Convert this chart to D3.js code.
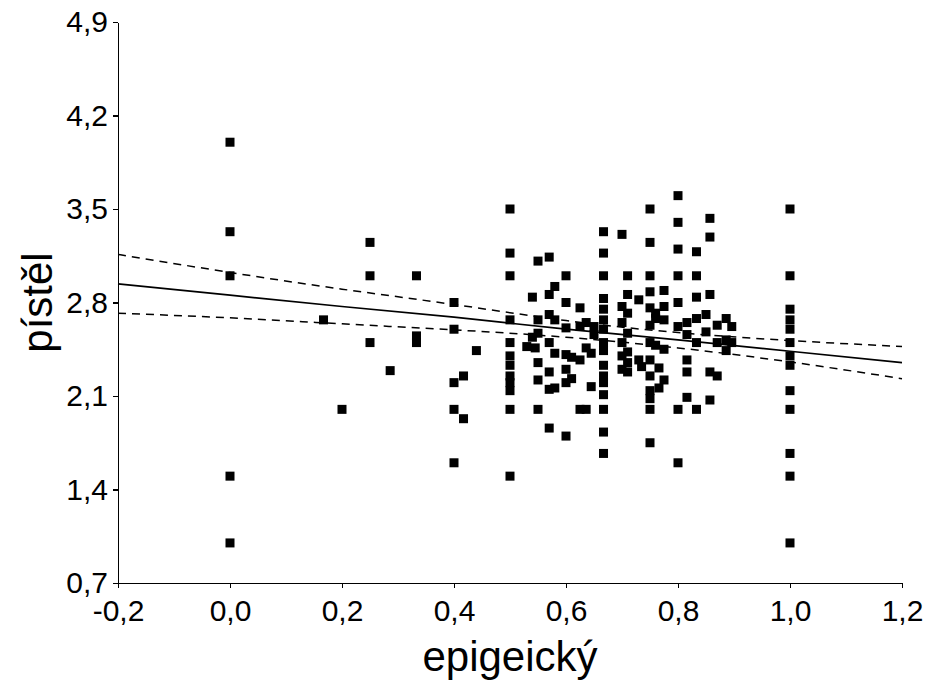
<!DOCTYPE html>
<html lang="cs">
<head>
    <meta charset="UTF-8">
    <title>pístěl vs epigeický</title>
    <script src="https://d3js.org/d3.v7.min.js"></script>
    <style>
        body {
            margin: 0;
            padding: 0;
            background: #fff;
        }
        svg {
            display: block;
            font-family: "Liberation Sans", Arial, sans-serif;
        }
        .axis path,
        .axis line {
            stroke: #000;
            stroke-width: 1.6px;
            shape-rendering: crispEdges;
        }
        .axis text {
            font-size: 30px;
            fill: #000;
        }
        .title {
            font-size: 42px;
            fill: #000;
            text-anchor: middle;
        }
    </style>
</head>
<body>
    <svg width="928" height="690"></svg>

    <script>
        // x values (epigeický) and the pístěl values observed at each of them
        const epigeicky = [0, 0.167, 0.2, 0.25, 0.286, 0.333, 0.4, 0.417, 0.44, 0.5,
            0.53, 0.54, 0.545, 0.55, 0.57, 0.58, 0.6, 0.61, 0.625, 0.636, 0.645, 0.65,
            0.667, 0.7, 0.71, 0.73, 0.735, 0.75, 0.76, 0.766, 0.775, 0.8, 0.816, 0.833,
            0.85, 0.857, 0.87, 0.886, 0.896, 1.0];

        const pistel = [
            [4.0, 3.33, 3.0, 1.5, 1.0],
            [2.67],
            [2.0],
            [3.25, 3.0, 2.5],
            [2.29],
            [3.0, 2.55, 2.5],
            [2.8, 2.6, 2.2, 2.0, 1.6],
            [2.25, 1.93],
            [2.44],
            [3.5, 3.17, 3.0, 2.67, 2.5, 2.4, 2.33, 2.25, 2.2, 2.14, 2.0, 1.5],
            [2.47],
            [2.84, 2.54],
            [2.46],
            [3.11, 2.67, 2.57, 2.35, 2.22, 2.0],
            [3.14, 2.86, 2.71, 2.5, 2.28, 2.15, 1.86],
            [2.92, 2.67, 2.42, 2.16],
            [3.0, 2.8, 2.61, 2.41, 2.3, 2.2, 1.8],
            [2.39, 2.23],
            [2.76, 2.62, 2.37, 2.0],
            [2.65, 2.46, 2.0],
            [2.42, 2.17],
            [2.62, 2.56],
            [3.33, 3.17, 3.0, 2.83, 2.75, 2.67, 2.6, 2.5, 2.44, 2.33, 2.25, 2.2, 2.11, 2.0, 1.83, 1.67],
            [3.31, 2.77, 2.65, 2.5, 2.4, 2.3],
            [3.0, 2.86, 2.72, 2.57, 2.43, 2.35, 2.28],
            [2.82, 2.37],
            [2.32],
            [3.5, 3.25, 3.0, 2.88, 2.76, 2.63, 2.5, 2.37, 2.25, 2.14, 2.08, 2.0, 1.75],
            [2.72, 2.68, 2.48],
            [2.31, 2.16],
            [2.89, 2.77, 2.67, 2.45, 2.22],
            [3.6, 3.4, 3.2, 3.0, 2.8, 2.62, 2.0, 1.6],
            [2.65, 2.56, 2.37, 2.28, 2.09],
            [3.18, 3.0, 2.84, 2.68, 2.5, 2.0],
            [2.71, 2.58],
            [3.43, 3.29, 2.86, 2.28, 2.07],
            [2.63, 2.5, 2.25],
            [2.68, 2.52, 2.44],
            [2.62, 2.5],
            [3.5, 3.0, 2.75, 2.67, 2.6, 2.5, 2.4, 2.33, 2.14, 2.0, 1.67, 1.5, 1.0]
        ];

        // fitted line and 95% confidence limits
        const bandX = [-0.2, 0, 0.2, 0.4, 0.6, 0.8, 1.0, 1.2];
        const fitY = [2.94, 2.855, 2.77, 2.69, 2.60, 2.52, 2.435, 2.35];
        const upperY = [3.16, 3.025, 2.90, 2.785, 2.665, 2.575, 2.515, 2.47];
        const lowerY = [2.72, 2.685, 2.64, 2.595, 2.54, 2.46, 2.355, 2.23];

        const xTicks = [-0.2, 0, 0.2, 0.4, 0.6, 0.8, 1.0, 1.2];
        const yTicks = [0.7, 1.4, 2.1, 2.8, 3.5, 4.2, 4.9];

        const margin = { top: 22, right: 26, bottom: 107, left: 118 };
        const width = 928 - margin.left - margin.right;
        const height = 690 - margin.top - margin.bottom;

        const points = [];
        epigeicky.forEach((x, i) => pistel[i].forEach(y => points.push({ x: x, y: y })));

        const svg = d3.select("svg")
            .append("g")
            .attr("transform", `translate(${margin.left},${margin.top})`);

        const x = d3.scaleLinear()
            .domain([xTicks[0], xTicks[xTicks.length - 1]])
            .range([0, width]);

        const y = d3.scaleLinear()
            .domain([yTicks[0], yTicks[yTicks.length - 1]])
            .range([height, 0]);

        const fmt = d => d3.format(".1f")(d).replace(".", ",").replace("−", "-");

        svg.append("g")
            .attr("class", "axis")
            .attr("transform", `translate(0,${height})`)
            .call(d3.axisBottom(x).tickValues(xTicks).tickFormat(fmt)
                .tickSize(5).tickSizeOuter(0).tickPadding(12))
            .call(g => g.selectAll("text").attr("font-family", null).attr("font-size", null));

        svg.append("g")
            .attr("class", "axis")
            .call(d3.axisLeft(y).tickValues(yTicks).tickFormat(fmt)
                .tickSize(5).tickSizeOuter(0).tickPadding(5))
            .call(g => g.selectAll("text").attr("font-family", null).attr("font-size", null));

        const band = bandX.map((b, i) => ({ x: b, fit: fitY[i], hi: upperY[i], lo: lowerY[i] }));

        const line = (key, curve) => d3.line().curve(curve).x(d => x(d.x)).y(d => y(d[key]));

        svg.append("path")
            .datum(band)
            .attr("fill", "none")
            .attr("stroke", "#000")
            .attr("stroke-width", 1.7)
            .attr("d", line("fit", d3.curveLinear));

        ["lo", "hi"].forEach(k => {
            svg.append("path")
                .datum(band)
                .attr("fill", "none")
                .attr("stroke", "#000")
                .attr("stroke-width", 1.5)
                .attr("stroke-dasharray", "8,6")
                .attr("d", line(k, d3.curveNatural));
        });

        const sz = 9;
        svg.selectAll(".pt")
            .data(points)
            .enter()
            .append("rect")
            .attr("class", "pt")
            .attr("x", d => x(d.x) - sz / 2)
            .attr("y", d => y(d.y) - sz / 2)
            .attr("width", sz)
            .attr("height", sz)
            .attr("fill", "#000");

        svg.append("text")
            .attr("class", "title")
            .attr("x", width / 2)
            .attr("y", height + 88)
            .text("epigeický");

        svg.append("text")
            .attr("class", "title")
            .attr("transform", "rotate(-90)")
            .attr("x", -height / 2)
            .attr("y", -66)
            .text("pístěl");
    </script>
</body>
</html>
